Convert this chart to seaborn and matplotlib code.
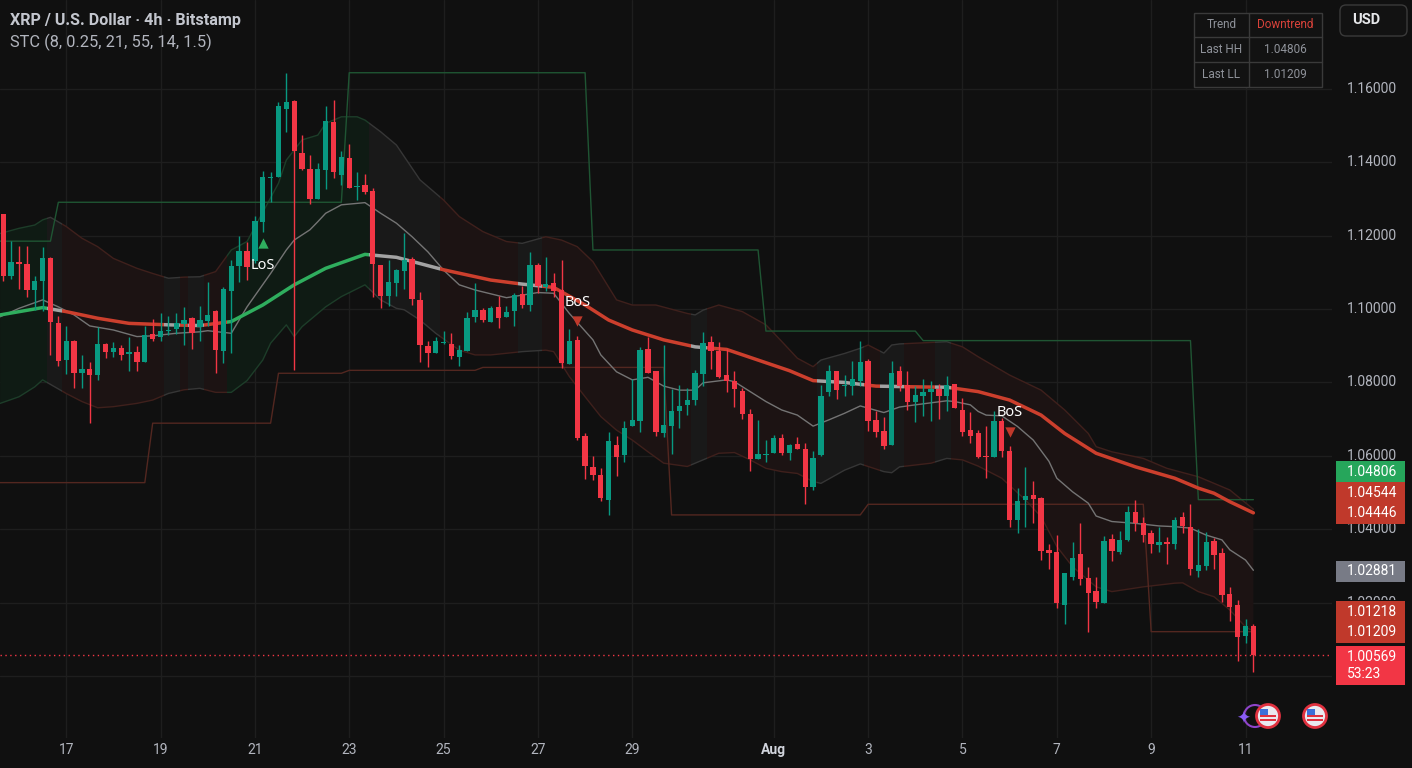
import numpy as np
import matplotlib
matplotlib.use("Agg")
import matplotlib.pyplot as plt
import seaborn as sns
from matplotlib.path import Path
from matplotlib.patches import Polygon, Rectangle, Circle, FancyBboxPatch
from matplotlib.transforms import Bbox
from matplotlib import transforms

# --- candles (4h, first candle = Jul 15 16:00) ---
OPEN = [1.1258, 1.1089, 1.1127, 1.1124, 1.1053, 1.1076, 1.1140, 1.0963, 1.0862, 1.0914,
        1.0827, 1.0837, 1.0821, 1.0906, 1.0882, 1.0895, 1.0878, 1.0882, 1.0857, 1.0933,
        1.0924, 1.0941, 1.0947, 1.0960, 1.0976, 1.0950, 1.0968, 1.0996, 1.0887, 1.1048,
        1.1116, 1.1159, 1.1130, 1.1236, 1.1356, 1.1359, 1.1544, 1.1566, 1.1424, 1.1383,
        1.1301, 1.1380, 1.1509, 1.1364, 1.1412, 1.1332, 1.1337, 1.1323, 1.1121, 1.1035,
        1.1071, 1.1103, 1.1137, 1.1026, 1.0900, 1.0880, 1.0907, 1.0906, 1.0868, 1.0887,
        1.0977, 1.0998, 1.0966, 1.1006, 1.0977, 1.0994, 1.1041, 1.1012, 1.1121, 1.1061,
        1.1071, 1.1053, 1.0850, 1.0917, 1.0655, 1.0569, 1.0548, 1.0480, 1.0630, 1.0603,
        1.0680, 1.0694, 1.0892, 1.0830, 1.0663, 1.0680, 1.0721, 1.0739, 1.0753, 1.0824,
        1.0910, 1.0887, 1.0821, 1.0805, 1.0778, 1.0715, 1.0591, 1.0603, 1.0609, 1.0649,
        1.0609, 1.0633, 1.0619, 1.0514, 1.0603, 1.0773, 1.0832, 1.0789, 1.0789, 1.0805,
        1.0859, 1.0698, 1.0668, 1.0630, 1.0830, 1.0794, 1.0746, 1.0762, 1.0775, 1.0783,
        1.0762, 1.0796, 1.0725, 1.0671, 1.0662, 1.0600, 1.0598, 1.0696, 1.0614, 1.0424,
        1.0480, 1.0494, 1.0486, 1.0344, 1.0337, 1.0193, 1.0271, 1.0333, 1.0266, 1.0232,
        1.0200, 1.0374, 1.0339, 1.0371, 1.0448, 1.0416, 1.0391, 1.0357, 1.0364, 1.0359,
        1.0433, 1.0405, 1.0287, 1.0300, 1.0369, 1.0334, 1.0224, 1.0193, 1.0109, 1.0137]
HIGH = [1.1260, 1.1185, 1.1173, 1.1173, 1.1091, 1.1170, 1.1142, 1.0982, 1.0953, 1.0917,
        1.0876, 1.0855, 1.0950, 1.0908, 1.0910, 1.0901, 1.0923, 1.0898, 1.0953, 1.0974,
        1.0989, 1.0980, 1.0989, 1.1006, 1.0978, 1.1007, 1.1073, 1.0998, 1.1059, 1.1133,
        1.1198, 1.1182, 1.1253, 1.1376, 1.1374, 1.1565, 1.1644, 1.1571, 1.1473, 1.1419,
        1.1399, 1.1553, 1.1571, 1.1430, 1.1449, 1.1373, 1.1367, 1.1329, 1.1121, 1.1135,
        1.1110, 1.1206, 1.1142, 1.1047, 1.0912, 1.0924, 1.0941, 1.0935, 1.0902, 1.0992,
        1.1071, 1.1003, 1.1007, 1.1035, 1.1007, 1.1044, 1.1062, 1.1156, 1.1126, 1.1141,
        1.1097, 1.1135, 1.0946, 1.0927, 1.0662, 1.0600, 1.0566, 1.0664, 1.0655, 1.0694,
        1.0810, 1.0896, 1.0923, 1.0830, 1.0901, 1.0782, 1.0794, 1.0785, 1.0835, 1.0938,
        1.0927, 1.0910, 1.0891, 1.0832, 1.0785, 1.0727, 1.0698, 1.0644, 1.0657, 1.0659,
        1.0632, 1.0651, 1.0635, 1.0614, 1.0794, 1.0848, 1.0832, 1.0821, 1.0859, 1.0914,
        1.0865, 1.0721, 1.0706, 1.0859, 1.0844, 1.0832, 1.0791, 1.0809, 1.0803, 1.0797,
        1.0818, 1.0796, 1.0757, 1.0719, 1.0671, 1.0680, 1.0723, 1.0703, 1.0627, 1.0512,
        1.0569, 1.0532, 1.0487, 1.0360, 1.0384, 1.0281, 1.0365, 1.0416, 1.0296, 1.0269,
        1.0382, 1.0386, 1.0395, 1.0462, 1.04806, 1.0432, 1.0398, 1.0407, 1.0380, 1.0432,
        1.0446, 1.0469, 1.0400, 1.0392, 1.0376, 1.0348, 1.0243, 1.0207, 1.0155, 1.0142]
LOW = [1.1076, 1.1083, 1.1056, 1.1032, 1.0998, 1.0994, 1.0876, 1.0846, 1.0824, 1.0786,
       1.0786, 1.0689, 1.0807, 1.0866, 1.0868, 1.0862, 1.0832, 1.0832, 1.0857, 1.0912,
       1.0914, 1.0930, 1.0933, 1.0903, 1.0892, 1.0912, 1.0953, 1.0826, 1.0853, 1.0880,
       1.1073, 1.1078, 1.1126, 1.1209, 1.1291, 1.1359, 1.1482, 1.0833, 1.1380, 1.1285,
       1.1301, 1.1326, 1.1358, 1.1339, 1.1329, 1.1297, 1.1314, 1.1032, 1.1003, 1.1007,
       1.1035, 1.1055, 1.1012, 1.0856, 1.0841, 1.0880, 1.0906, 1.0864, 1.0846, 1.0885,
       1.0966, 1.0966, 1.0964, 1.0948, 1.0977, 1.0953, 1.1003, 1.0994, 1.1044, 1.1048,
       1.1033, 1.0839, 1.0850, 1.0644, 1.0537, 1.0534, 1.0477, 1.0439, 1.0544, 1.0584,
       1.0680, 1.0666, 1.0827, 1.0653, 1.0650, 1.0605, 1.0676, 1.0710, 1.0739, 1.0791,
       1.0837, 1.0812, 1.0773, 1.0732, 1.0701, 1.0560, 1.0591, 1.0584, 1.0609, 1.0603,
       1.0589, 1.0619, 1.0468, 1.0507, 1.0600, 1.0762, 1.0756, 1.0764, 1.0766, 1.0791,
       1.0668, 1.0651, 1.0619, 1.0630, 1.0778, 1.0724, 1.0691, 1.0709, 1.0694, 1.0701,
       1.0721, 1.0730, 1.0655, 1.0635, 1.0594, 1.0539, 1.0598, 1.0598, 1.0407, 1.0391,
       1.0407, 1.0416, 1.0316, 1.0292, 1.0186, 1.0142, 1.0262, 1.0248, 1.01209, 1.0184,
       1.0198, 1.0314, 1.0332, 1.0369, 1.0396, 1.0366, 1.0334, 1.0339, 1.0304, 1.0346,
       1.0389, 1.0275, 1.0271, 1.0289, 1.0292, 1.0201, 1.0151, 1.0041, 1.0091, 1.0010]
CLOSE = [1.1089, 1.1127, 1.1122, 1.1053, 1.1077, 1.1140, 1.0964, 1.0859, 1.0914, 1.0827,
         1.0837, 1.0821, 1.0906, 1.0882, 1.0895, 1.0876, 1.0882, 1.0855, 1.0930, 1.0919,
         1.0941, 1.0944, 1.0962, 1.0971, 1.0935, 1.0971, 1.0985, 1.0889, 1.1056, 1.1118,
         1.1159, 1.1114, 1.1241, 1.1359, 1.1359, 1.1553, 1.1564, 1.1430, 1.1383, 1.1301,
         1.1383, 1.1512, 1.1373, 1.1415, 1.1329, 1.1335, 1.1320, 1.1123, 1.1035, 1.1073,
         1.1106, 1.1135, 1.1028, 1.0901, 1.0880, 1.0912, 1.0910, 1.0871, 1.0889, 1.0976,
         1.0998, 1.0969, 1.1003, 1.0975, 1.0992, 1.1039, 1.1012, 1.1121, 1.1062, 1.1069,
         1.1048, 1.0853, 1.0912, 1.0648, 1.0571, 1.0548, 1.0486, 1.0641, 1.0598, 1.0677,
         1.0698, 1.0889, 1.0827, 1.0666, 1.0685, 1.0721, 1.0735, 1.0753, 1.0826, 1.0907,
         1.0887, 1.0815, 1.0805, 1.0783, 1.0715, 1.0591, 1.0605, 1.0605, 1.0648, 1.0609,
         1.0630, 1.0619, 1.0514, 1.0595, 1.0764, 1.0830, 1.0780, 1.0791, 1.0810, 1.0855,
         1.0695, 1.0666, 1.0627, 1.0827, 1.0789, 1.0748, 1.0767, 1.0775, 1.0783, 1.0762,
         1.0794, 1.0730, 1.0666, 1.0655, 1.0598, 1.0597, 1.0694, 1.0612, 1.0424, 1.0477,
         1.0491, 1.0483, 1.0341, 1.0336, 1.0200, 1.0280, 1.0321, 1.0264, 1.0227, 1.0202,
         1.0368, 1.0342, 1.0371, 1.0448, 1.0418, 1.0384, 1.0360, 1.0365, 1.0361, 1.0425,
         1.0410, 1.0291, 1.0302, 1.0365, 1.0330, 1.0221, 1.0189, 1.0107, 1.0137, 1.00569]

# --- indicator lines (candle index, price) ---
SLOW_T = [-0.4, 5, 8, 12, 16, 21, 25, 29, 33, 37, 41, 46, 50, 56, 62, 66, 70, 74, 77, 80,
          84, 88, 92, 96, 100, 103, 107, 111, 116, 120, 124, 128, 132, 135, 139, 144, 149,
          152, 154, 156, 159]
SLOW_V = [1.0984, 1.1004, 1.0993, 1.0975, 1.0961, 1.0957, 1.0955, 1.0966, 1.1011, 1.1066,
          1.1111, 1.1149, 1.1141, 1.1107, 1.1079, 1.1068, 1.1059, 1.1011, 1.0970, 1.0943,
          1.0916, 1.0897, 1.0890, 1.0861, 1.0832, 1.0805, 1.0800, 1.0790, 1.0788, 1.0787,
          1.0775, 1.0752, 1.0711, 1.0661, 1.0607, 1.0570, 1.0539, 1.0512, 1.0498, 1.0475,
          1.04446]
FAST_T = [-0.4, 2, 5, 7, 9, 11, 14, 17, 19, 22, 25, 26, 29, 31, 34, 36, 37, 39, 40, 41,
          43, 46, 48, 50, 52, 54, 56, 58, 60, 64, 66, 68, 70, 72, 75, 76, 78, 80, 82, 84,
          86, 88, 89, 92, 93, 95, 97, 99, 101, 103, 105, 107, 109, 110, 112, 114, 116, 120,
          121, 123, 124, 125, 127, 129, 131, 133, 134, 136, 138, 139, 141, 144, 147, 149,
          151, 153, 155, 156, 158, 159]
FAST_V = [1.0979, 1.1002, 1.1025, 1.1006, 1.0984, 1.0954, 1.0943, 1.0925, 1.0927, 1.0934,
          1.0938, 1.0941, 1.0934, 1.1006, 1.1097, 1.1161, 1.1188, 1.1216, 1.1238, 1.1261,
          1.1284, 1.1290, 1.1261, 1.1234, 1.1197, 1.1156, 1.1106, 1.1066, 1.1052, 1.1031,
          1.1038, 1.1045, 1.1043, 1.0988, 1.0916, 1.0875, 1.0829, 1.0807, 1.0814, 1.0790,
          1.0779, 1.0779, 1.0799, 1.0807, 1.0802, 1.0775, 1.0748, 1.0725, 1.0711, 1.0681,
          1.0698, 1.0716, 1.0736, 1.0730, 1.0718, 1.0733, 1.0739, 1.0750, 1.0748, 1.0739,
          1.0721, 1.0711, 1.0709, 1.0680, 1.0643, 1.0585, 1.0539, 1.0502, 1.0471, 1.0436,
          1.0421, 1.0416, 1.0409, 1.0407, 1.0403, 1.0384, 1.0371, 1.0344, 1.0316, 1.02881]
UPPER_T = [-0.4, 2, 4, 5, 6, 8, 10, 12, 14, 17, 19, 21, 23, 25, 27, 29, 31, 35, 36, 38,
           40, 41, 43, 45, 46, 48, 50, 53, 56, 58, 61, 64, 66, 69, 71, 73, 75, 78, 80, 83,
           87, 88, 89, 91, 94, 97, 99, 101, 103, 104, 107, 109, 110, 112, 113, 114, 116, 120,
           122, 124, 128, 132, 135, 138, 139, 141, 145, 148, 152, 156, 159]
UPPER_V = [1.1206, 1.1220, 1.1229, 1.1243, 1.1250, 1.1225, 1.1193, 1.1170, 1.1138, 1.1111,
           1.1097, 1.1084, 1.1087, 1.1088, 1.1102, 1.1161, 1.1184, 1.1343, 1.1406, 1.1461,
           1.1474, 1.1506, 1.1524, 1.1524, 1.1515, 1.1483, 1.1447, 1.1352, 1.1297, 1.1252,
           1.1211, 1.1184, 1.1179, 1.1197, 1.1188, 1.1170, 1.1129, 1.1025, 1.1011, 1.1011,
           1.0988, 1.0984, 1.0997, 1.1011, 1.0993, 1.0957, 1.0912, 1.0866, 1.0843, 1.0861,
           1.0879, 1.0893, 1.0902, 1.0880, 1.0902, 1.0905, 1.0907, 1.0911, 1.0897, 1.0870,
           1.0820, 1.0779, 1.0725, 1.0661, 1.0625, 1.0611, 1.0593, 1.0566, 1.0543, 1.0507,
           1.04544]
LOWER_T = [-0.4, 2, 4, 5, 8, 10, 12, 14, 17, 19, 21, 23, 25, 27, 29, 31, 33, 34, 36, 37,
           38, 41, 43, 46, 48, 50, 51, 53, 55, 58, 60, 62, 66, 69, 70, 72, 74, 76, 78, 80,
           82, 84, 87, 89, 91, 93, 95, 97, 99, 101, 103, 104, 107, 109, 112, 113, 114, 118,
           120, 122, 124, 127, 130, 132, 134, 136, 139, 141, 145, 149, 150, 152, 154, 156,
           158, 159]
LOWER_V = [1.0743, 1.0761, 1.0788, 1.0807, 1.0770, 1.0748, 1.0731, 1.0734, 1.0743, 1.0752,
           1.0770, 1.0780, 1.0784, 1.0773, 1.0773, 1.0805, 1.0861, 1.0907, 1.0957, 1.0925,
           1.0952, 1.1006, 1.1034, 1.1066, 1.1025, 1.1002, 1.0998, 1.0970, 1.0934, 1.0888,
           1.0875, 1.0875, 1.0884, 1.0888, 1.0884, 1.0816, 1.0761, 1.0707, 1.0670, 1.0643,
           1.0611, 1.0580, 1.0571, 1.0589, 1.0607, 1.0609, 1.0589, 1.0566, 1.0557, 1.0552,
           1.0530, 1.0525, 1.0561, 1.0578, 1.0557, 1.0554, 1.0570, 1.0580, 1.0593, 1.0589,
           1.0572, 1.0539, 1.0480, 1.0434, 1.0353, 1.0298, 1.0243, 1.0230, 1.0243, 1.0253,
           1.0254, 1.0230, 1.0216, 1.0180, 1.0134, 1.01218]

# swing structure levels (start candle, level)
HH_START = [-1, 7, 44, 75, 97, 117, 152]
HH_LEVEL = [1.1185, 1.1291, 1.1644, 1.1161, 1.0940, 1.0914, 1.04806]
LL_START = [-1, 19, 35, 44, 61, 85, 110, 146]
LL_LEVEL = [1.0527, 1.0689, 1.0825, 1.0833, 1.0841, 1.0439, 1.0468, 1.01209]

# trend state of each candle (the rest is downtrend)
UP_RANGES = [(0, 5), (29, 46)]
NEUTRAL_RANGES = [(6, 7), (21, 22), (24, 25), (47, 55), (66, 68), (88, 89),
                  (104, 109), (112, 114), (119, 120)]

TICK_T = [8, 20, 32, 44, 56, 68, 80, 98, 110, 122, 134, 146, 158]
TICK_LABELS = ["17", "19", "21", "23", "25", "27", "29", "Aug", "3", "5", "7", "9", "11"]
PRICE_TICKS = [1.16, 1.14, 1.12, 1.10, 1.08, 1.06, 1.04, 1.02, 1.00]
PRICE_LABELS = [1.16, 1.14, 1.12, 1.10, 1.08, 1.06, 1.04, 1.02]

SIGNAL_TEXT = ["LoS", "BoS", "BoS"]
SIGNAL_T = [33, 73, 128]
SIGNAL_TEXT_Y = [1.1120, 1.1017, 1.0717]
SIGNAL_MARK_Y = [1.1180, 1.0968, 1.0665]
SIGNAL_DIR = ["up", "down", "down"]

BADGE_TEXT = ["1.04806", "1.04544", "1.04446", "1.02881", "1.01218", "1.01209", "1.00569", "53:23"]
BADGE_AT = [1.05568, 1.04996, 1.04435, 1.02854, 1.01753, 1.01192, 1.00527, 1.00047]
BADGE_KIND = ["hh", "band", "band", "fast", "band", "band", "last", "last"]

LAST_PRICE = 1.00569

# --- colours ---
BG = "#101010"
GRID = "#1e1e1e"
UP_C = "#089981"
DN_C = "#f23645"
TEXT_C = "#b2b5be"
STATE_COLORS = {
    "up": {"fill": "#0f1b14", "edge": "#1d3d29", "slow": "#2fae5e"},
    "neutral": {"fill": "#191919", "edge": "#363636", "slow": "#a3a3a3"},
    "down": {"fill": "#1c1313", "edge": "#3f201c", "slow": "#cc3f2d"},
}
BADGE_COLORS = {"hh": "#26a65b", "band": "#c0392b", "fast": "#787b86", "last": "#f23645"}

W, H = 1412, 768


def down_ranges(up, neutral, lo=-5, hi=175):
    out, cur = [], lo
    for a, b in sorted(up + neutral):
        if a > cur:
            out.append((cur, a - 1))
        cur = max(cur, b + 1)
    if cur <= hi:
        out.append((cur, hi))
    return out


def strip_path(ranges):
    verts, codes = [], []
    for a, b in ranges:
        if a == 0:
            a = -5
        x0, x1 = a - 0.5, b + 0.5
        verts += [(x0, 0.9), (x1, 0.9), (x1, 1.3), (x0, 1.3), (x0, 0.9)]
        codes += [Path.MOVETO, Path.LINETO, Path.LINETO, Path.LINETO, Path.CLOSEPOLY]
    return Path(verts, codes)


def step_points(starts, levels, end=159):
    xs, ys = [], []
    for k, (s, v) in enumerate(zip(starts, levels)):
        e = starts[k + 1] - 1 if k + 1 < len(starts) else end
        xs += [s, e]
        ys += [v, v]
    return xs, ys


sns.set_theme(style="dark", rc={"axes.facecolor": BG, "figure.facecolor": BG,
                                 "savefig.facecolor": BG})
plt.rcParams["font.family"] = ["Roboto", "DejaVu Sans"]

fig = plt.figure(figsize=(W / 100, H / 100), dpi=100)
ax = fig.add_axes([0, 30 / H, 1332 / W, 738 / H])
ax.set_facecolor(BG)
ax.set_xlim(-0.42, 169.0)
ax.set_ylim(0.98311, 1.18422)
ax.set_yticks(PRICE_TICKS)
ax.set_xticks(TICK_T)
ax.grid(True, color=GRID, lw=1)
ax.tick_params(length=0, labelleft=False, labelbottom=False)
for sp in ax.spines.values():
    sp.set_visible(False)

state_strips = {
    "up": strip_path(UP_RANGES),
    "neutral": strip_path(NEUTRAL_RANGES),
    "down": strip_path(down_ranges(UP_RANGES, NEUTRAL_RANGES)),
}

# band fill, coloured by trend state
band_verts = list(zip(UPPER_T, UPPER_V)) + list(zip(LOWER_T, LOWER_V))[::-1]
for state, path in state_strips.items():
    poly = Polygon(band_verts, closed=True, facecolor=STATE_COLORS[state]["fill"],
                   edgecolor="none", zorder=1)
    ax.add_patch(poly)
    poly.set_clip_path(path, ax.transData)

# band edges + slow line, coloured by trend state
for state, path in state_strips.items():
    for tt, vv, key, lw, z in [(UPPER_T, UPPER_V, "edge", 1.0, 2),
                              (LOWER_T, LOWER_V, "edge", 1.0, 2),
                              (SLOW_T, SLOW_V, "slow", 2.5, 3.5)]:
        sns.lineplot(x=tt, y=vv, ax=ax, color=STATE_COLORS[state][key], lw=lw,
                     estimator=None, sort=False, zorder=z)
        ax.lines[-1].set_clip_path(path, ax.transData)

# fast line
sns.lineplot(x=FAST_T, y=FAST_V, ax=ax, color="#747474", lw=1.0, estimator=None,
             sort=False, zorder=3)

# swing high / low structure lines
hx, hy = step_points(HH_START, HH_LEVEL)
sns.lineplot(x=hx, y=hy, ax=ax, color="#1f5533", lw=1.0, estimator=None, sort=False, zorder=2)
lx, ly = step_points(LL_START, LL_LEVEL)
sns.lineplot(x=lx, y=ly, ax=ax, color="#532720", lw=1.0, estimator=None, sort=False, zorder=2)

# candles
t = np.arange(len(OPEN))
o, h, l, c = map(np.array, (OPEN, HIGH, LOW, CLOSE))
cols = np.where(c >= o, UP_C, DN_C)
ax.vlines(t, l, h, colors=cols, lw=1.0, zorder=4)
body = np.maximum(np.abs(c - o), 0.0003)
ax.bar(t, body, bottom=np.minimum(o, c), width=0.68, color=cols, linewidth=0, zorder=5)

# last price line
ax.axhline(LAST_PRICE, color=DN_C, lw=1.0, ls=(0, (1, 2.5)), zorder=6)

# LoS / BoS signals
for txt, st, ty, my, d in zip(SIGNAL_TEXT, SIGNAL_T, SIGNAL_TEXT_Y, SIGNAL_MARK_Y, SIGNAL_DIR):
    ax.text(st, ty, txt, color="#ffffff", ha="center", va="center", fontsize=10.5,
            family=["Noto Sans", "DejaVu Sans"], zorder=7)
    ax.scatter([st], [my], marker="^" if d == "up" else "v", s=55,
               color="#2fae5e" if d == "up" else "#c0392b", linewidths=0, zorder=7)

# price axis labels (1.02000 is mostly hidden behind the badges)
ytrans = transforms.blended_transform_factory(fig.transFigure, ax.transData)
label_clip = Bbox.from_extents(1330, H - 600, W, H)
for v in PRICE_LABELS:
    pt = fig.text(1347 / W, v, f"{v:.5f}", transform=ytrans, color=TEXT_C, fontsize=10,
                  ha="left", va="center", zorder=5)
    pt.set_clip_box(label_clip)
    pt.set_clip_on(True)

# price badges
bh = 20.8 * (1.18422 - 0.98311) / 738
for txt, at, kind in zip(BADGE_TEXT, BADGE_AT, BADGE_KIND):
    fig.add_artist(Rectangle((1336 / W, at - bh / 2), 69 / W, bh, transform=ytrans,
                             facecolor=BADGE_COLORS[kind], edgecolor="none", zorder=10))
    fig.text(1347 / W, at, txt, transform=ytrans, color="#ffffff", fontsize=10,
             ha="left", va="center", zorder=11)

# time axis labels
xtrans = transforms.blended_transform_factory(ax.transData, fig.transFigure)
for tt, lab in zip(TICK_T, TICK_LABELS):
    fig.text(tt, 1 - 750 / H, lab, transform=xtrans, ha="center", va="center",
             color="#d1d4dc" if lab == "Aug" else TEXT_C, fontsize=10,
             fontweight="bold" if lab == "Aug" else "normal")

# header
fig.text(10 / W, 1 - 21 / H, "XRP / U.S. Dollar \u00b7 4h \u00b7 Bitstamp", color="#c3c6ce",
         fontsize=11.6, fontweight="bold", ha="left", va="center")
fig.text(10 / W, 1 - 42 / H, "STC (8, 0.25, 21, 55, 14, 1.5)", color=TEXT_C,
         fontsize=11.8, ha="left", va="center")

# status table (top right)
tx0, tx1, tcol = 1194, 1322, 1249
ty = [12.7, 37.3, 62.3, 87.3]
fig.add_artist(Rectangle((tx0 / W, 1 - ty[-1] / H), (tx1 - tx0) / W, (ty[-1] - ty[0]) / H,
                         transform=fig.transFigure, facecolor="#121212",
                         edgecolor="#3a3a3a", lw=1, zorder=8))
for yy in ty[1:3]:
    fig.add_artist(plt.Line2D([tx0 / W, tx1 / W], [1 - yy / H] * 2, color="#3a3a3a",
                              lw=1, transform=fig.transFigure, zorder=9))
fig.add_artist(plt.Line2D([tcol / W] * 2, [1 - ty[0] / H, 1 - ty[-1] / H], color="#3a3a3a",
                          lw=1, transform=fig.transFigure, zorder=9))
table_rows = [("Trend", "Downtrend"), ("Last HH", f"{HH_LEVEL[-1]:.5f}"),
              ("Last LL", f"{LL_LEVEL[-1]:.5f}")]
for r, (k, v) in enumerate(table_rows):
    yc = 1 - (ty[r] + ty[r + 1]) / 2 / H
    fig.text((tx0 + tcol) / 2 / W, yc, k, color="#8f929a", fontsize=8.5, ha="center",
             va="center", zorder=10)
    fig.text((tcol + tx1) / 2 / W, yc, v, color="#d9423a" if r == 0 else "#8f929a",
             fontsize=8.5, ha="center", va="center", zorder=10)

# currency button
fig.add_artist(FancyBboxPatch((13.40, (H - 36) / 100), 0.67, 0.31,
                              boxstyle="round,pad=0,rounding_size=0.06",
                              transform=fig.dpi_scale_trans, facecolor="#121212",
                              edgecolor="#3a3a3a", lw=1, zorder=8))
fig.text(1352 / W, 1 - 20.5 / H, "USD", color="#e6e7ea", fontsize=10.5, fontweight="bold",
         ha="left", va="center", zorder=9)

# event icons (bottom right)
for cx in (1268, 1315):
    fig.add_artist(Circle((cx / 100, (H - 716) / 100), 0.115, transform=fig.dpi_scale_trans,
                          facecolor="#e9e9ef", edgecolor="#e0313f", lw=2, zorder=9))
    fig.add_artist(Rectangle(((cx - 8) / 100, (H - 716) / 100), 0.08, 0.07,
                             transform=fig.dpi_scale_trans, facecolor="#3b6fd9",
                             edgecolor="none", zorder=10))
    for dy in (-5, -1):
        fig.add_artist(Rectangle(((cx - 8) / 100, (H - 716 + dy) / 100), 0.16, 0.018,
                                 transform=fig.dpi_scale_trans, facecolor="#e0313f",
                                 edgecolor="none", zorder=10))
fig.add_artist(Circle((12.55, (H - 716) / 100), 0.11, transform=fig.dpi_scale_trans,
                      facecolor="none", edgecolor="#8e44c9", lw=1.5, zorder=8))
fig.text(1243 / W, 1 - 719 / H, "\u2726", color="#8b5cf6", fontsize=12, ha="center",
         va="center", family=["DejaVu Sans"], zorder=9)

fig.savefig("out.png", dpi=100, facecolor=BG)
